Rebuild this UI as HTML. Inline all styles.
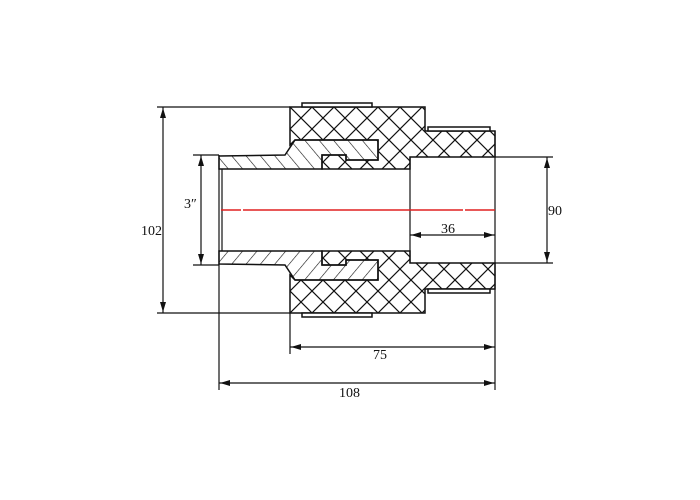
<!DOCTYPE html>
<html><head><meta charset="utf-8"><style>
html,body{margin:0;padding:0;background:#fff;width:700px;height:500px;overflow:hidden}
text{font-family:"Liberation Serif",serif;font-size:14px;fill:#111}
</style></head><body>
<svg width="700" height="500" viewBox="0 0 700 500" xmlns="http://www.w3.org/2000/svg">
<defs>
<pattern id="xh" width="22" height="22" patternUnits="userSpaceOnUse" x="290" y="107">
<path d="M0 0L22 22M22 0L0 22" stroke="#111" stroke-width="1.2"/>
</pattern>
<pattern id="dh" width="11" height="11" patternUnits="userSpaceOnUse" patternTransform="rotate(-40)">
<path d="M0 0V11" stroke="#111" stroke-width="1.2"/>
</pattern>
<g id="half" stroke="#111" stroke-width="1.5">
<path d="M290,107 L425,107 L425,131 L495,131 L495,157 L410,157 L410,169 L322,169 L322,155 L346,155 L346,160 L378,160 L378,140 L295,140 L290,145 Z" fill="url(#xh)"/>
<path d="M219,156 L285,155 L295,140 L378,140 L378,160 L346,160 L346,155 L322,155 L322,169 L219,169 Z" fill="url(#dh)"/>
<rect x="302" y="103" width="70" height="4" fill="#fff"/>
<rect x="428" y="127" width="62" height="4" fill="#fff"/>
</g>
</defs>
<use href="#half"/>
<use href="#half" transform="translate(0,420) scale(1,-1)"/>
<g stroke="#111" stroke-width="1.2" fill="none">
<line x1="219" y1="155" x2="219" y2="390"/>
<line x1="222" y1="169" x2="222" y2="251"/>
<line x1="410" y1="157" x2="410" y2="263"/>
<line x1="495" y1="131" x2="495" y2="390"/>
<line x1="157" y1="107" x2="290" y2="107"/>
<line x1="157" y1="313" x2="290" y2="313"/>
<line x1="193" y1="155" x2="219" y2="155"/>
<line x1="193" y1="265" x2="219" y2="265"/>
<line x1="495" y1="157" x2="553" y2="157"/>
<line x1="495" y1="263" x2="553" y2="263"/>
<line x1="290" y1="313" x2="290" y2="354"/>
<line x1="163" y1="107" x2="163" y2="313"/>
<line x1="201" y1="155" x2="201" y2="265"/>
<line x1="547" y1="157" x2="547" y2="263"/>
<line x1="410" y1="235" x2="495" y2="235"/>
<line x1="290" y1="347" x2="495" y2="347"/>
<line x1="219" y1="383" x2="495" y2="383"/>
</g>
<line x1="221" y1="210" x2="495" y2="210" stroke="#e02020" stroke-width="1.4" stroke-dasharray="20 2 200 0"/>
<g fill="#111">
<path d="M163,108 l-3,10 h6z"/><path d="M163,312 l-3,-10 h6z"/>
<path d="M201,156 l-3,10 h6z"/><path d="M201,264 l-3,-10 h6z"/>
<path d="M547,158 l-3,10 h6z"/><path d="M547,262 l-3,-10 h6z"/>
<path d="M411,235 l10,-3 v6z"/><path d="M494,235 l-10,-3 v6z"/>
<path d="M291,347 l10,-3 v6z"/><path d="M494,347 l-10,-3 v6z"/>
<path d="M220,383 l10,-3 v6z"/><path d="M494,383 l-10,-3 v6z"/>
</g>
<text x="141" y="235">102</text>
<text x="184" y="208">3″</text>
<text x="548" y="215">90</text>
<text x="441" y="233">36</text>
<text x="373" y="359">75</text>
<text x="339" y="397">108</text>
</svg>
</body></html>
